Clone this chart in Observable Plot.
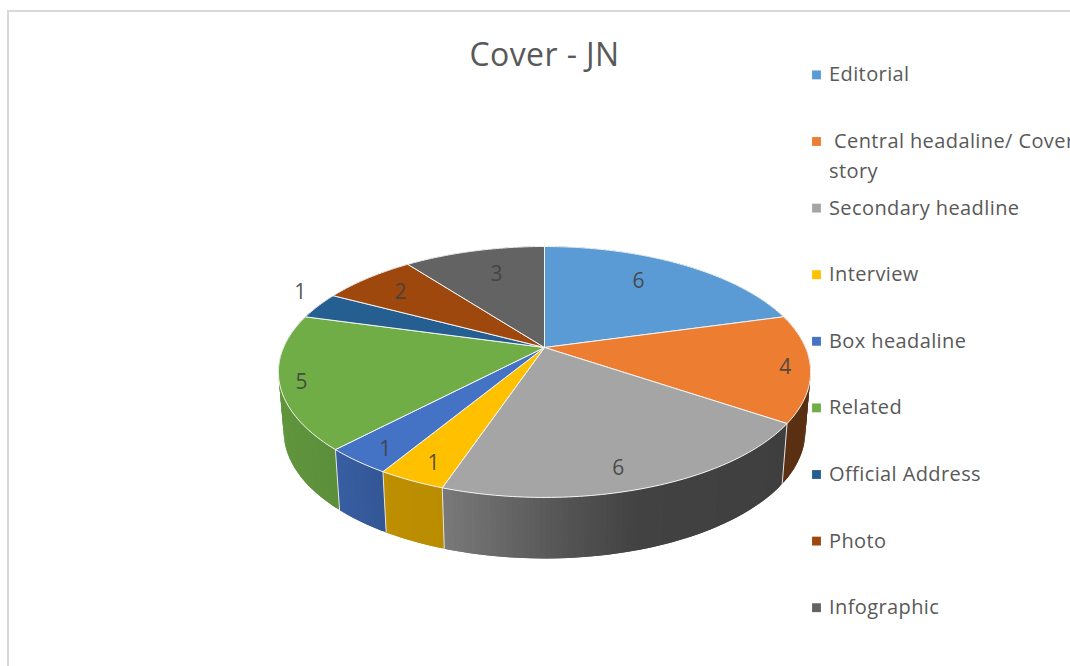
<!DOCTYPE html>
<html>
<head>
<meta charset="utf-8">
<style>
  html, body { margin: 0; padding: 0; background: #fff; overflow: hidden; }
  svg { display: block; letter-spacing: 0.4px; }
</style>
<script src="https://cdn.jsdelivr.net/npm/d3@7"></script>
<script src="https://cdn.jsdelivr.net/npm/@observablehq/plot@0.6"></script>
</head>
<body>
<div id="chart"></div>
<script>
const chartTitle = "Cover - JN";
const categories = ["Editorial", "Central headaline/ Cover story", "Secondary headline", "Interview", "Box headaline", "Related", "Official Address", "Photo", "Infographic"];
const values = [6, 4, 6, 1, 1, 5, 1, 2, 3];
const colors = ["#5B9BD5", "#ED7D31", "#A5A5A5", "#FFC000", "#4472C4", "#70AD47", "#255E91", "#9E480E", "#636363"];
const labelDx = [-12, 43, 1.5, -16, -25, -46.6, -71.5, -7.6, 7];
const labelDy = [-2, 5, 21, 21, 20, 10, -23, -1.5, 2];

const W = 1070, H = 666;
const FONT = "'Open Sans', sans-serif";
const INK = "#595959";

// Perspective view of the pie's disc
const view = {cx: 544, cy: 347, a: 261, b: 120.7, k: 0.195};
const floor = {sx: 0.98, sy: 1.01, cy: 406.5};
const project = (angle, r = 1) => {
  const X = r * Math.sin(angle), Y = r * Math.cos(angle);
  const d = 1 + view.k * Y;
  return [view.a * X / d, -view.b * Y / d];
};
const topPt = (angle, r = 1) => {
  const [u, v] = project(angle, r);
  return {x: view.cx + u, y: view.cy + v};
};
const lowPt = (angle) => {
  const [u, v] = project(angle);
  return {x: view.cx + floor.sx * u, y: floor.cy + floor.sy * v};
};

const total = d3.sum(values);
const cum = d3.cumsum(values);
const slices = categories.map((name, i) => ({
  name, i, value: values[i], color: colors[i],
  start: (i ? cum[i - 1] : 0) / total * 2 * Math.PI,
  end: cum[i] / total * 2 * Math.PI
}));
const arcSteps = (s) => Math.max(4, Math.ceil((s.end - s.start) / (Math.PI / 180)));

// Top faces
const topRows = slices.flatMap((s) => {
  const n = arcSteps(s), pts = [{...topPt(0, 0), name: s.name}];
  for (let j = 0; j <= n; ++j) pts.push({...topPt(s.start + (s.end - s.start) * j / n), name: s.name});
  pts.push({...topPt(0, 0), name: s.name});
  return pts;
});

// Side wall: thin overlapping quads, shaded by horizontal position
const shade = d3.scaleLinear().domain([280, 340, 390, 445, 570, 640, 810]).range([0.86, 0.82, 0.74, 0.73, 0.5, 0.4, 0.38]).clamp(true);
const wallRows = slices.flatMap((s) => {
  const n = arcSteps(s), rows = [], base = d3.rgb(s.color), step = (s.end - s.start) / n;
  for (let j = 0; j < n; ++j) {
    const a0 = s.start + step * j, a1 = s.start + step * (j + 1);
    const reach = j < n - 1 ? a1 + step : a1;
    const t0 = topPt(a0), t1 = topPt(reach), l0 = lowPt(a0), l1 = lowPt(reach);
    const f = shade((t0.x + topPt(a1).x) / 2);
    const fill = d3.rgb(base.r * f, base.g * f, base.b * f).formatHex();
    const id = s.i + "-" + j;
    for (const p of [t0, t1, l1, l0, t0]) rows.push({...p, id, fill});
  }
  return rows;
});
const wallEdges = slices.map((s) => {
  const t = topPt(s.start), l = lowPt(s.start);
  return {x1: t.x, y1: t.y, x2: l.x, y2: l.y};
});

// Value labels
const labelRows = slices.map((s, i) => {
  const p = topPt((s.start + s.end) / 2, 0.75);
  return {x: p.x + labelDx[i], y: p.y + labelDy[i], text: String(s.value)};
});

// Legend
const legendX = 816, legendTextX = 828.5, legendTop = 74.4, legendStep = 66.6;
const legendRows = slices.map((s, i) => ({name: s.name, x: legendX, y: legendTop + i * legendStep}));
const legendLines = [];
categories.forEach((name, i) => {
  const y = legendTop + i * legendStep;
  if (name.endsWith(" story")) {
    legendLines.push({text: name.replace(" story", ""), x: legendTextX + 5, y});
    legendLines.push({text: "story", x: legendTextX, y: y + 30});
  } else {
    legendLines.push({text: name, x: legendTextX, y});
  }
});

const chart = Plot.plot({
  width: W, height: H,
  margin: 0,
  style: {background: "#fff", fontFamily: FONT},
  x: {domain: [0, W], range: [0, W], axis: null},
  y: {domain: [0, H], range: [0, H], axis: null},
  color: {domain: categories, range: colors},
  marks: [
    Plot.ruleY([10.5], {x1: 7, x2: W, stroke: "#d9d9d9", strokeWidth: 2}),
    Plot.ruleX([7.5], {y1: 10, y2: H, stroke: "#d9d9d9", strokeWidth: 2}),
    Plot.line(wallRows, {
      x: "x", y: "y", z: "id",
      fill: {value: "fill", scale: null},
      stroke: "none"
    }),
    Plot.link(wallEdges, {x1: "x1", y1: "y1", x2: "x2", y2: "y2", stroke: "#e4e4e4", strokeWidth: 1}),
    Plot.line(topRows, {
      x: "x", y: "y", z: "name",
      fill: "name",
      stroke: "#f4f4f4",
      strokeWidth: 1
    }),
    Plot.text(labelRows, {
      x: "x", y: "y", text: "text",
      fill: "#404040", fillOpacity: 0.9, fontSize: 21, fontFamily: FONT,
      textAnchor: "middle", lineAnchor: "middle"
    }),
    Plot.text([chartTitle], {
      x: () => 544, y: () => 55, text: (d) => d,
      fill: INK, fontSize: 32, fontFamily: FONT,
      textAnchor: "middle", lineAnchor: "middle"
    }),
    Plot.dot(legendRows, {
      x: "x", y: "y", fill: "name", symbol: "square", r: 5
    }),
    Plot.text(legendLines, {
      x: "x", y: "y", text: "text",
      fill: INK, fontSize: 20, fontFamily: FONT,
      textAnchor: "start", lineAnchor: "middle"
    })
  ]
});
document.getElementById("chart").append(chart);
</script>
</body>
</html>
